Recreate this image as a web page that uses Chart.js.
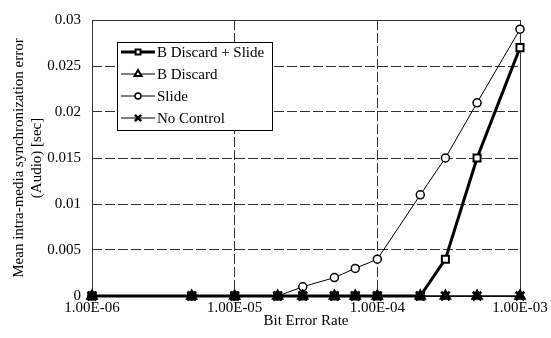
<!DOCTYPE html>
<html>
<head>
<meta charset="utf-8">
<script src="https://cdn.jsdelivr.net/npm/chart.js@4.4.1/dist/chart.umd.min.js"></script>
<style>
  html, body { margin: 0; padding: 0; background: #fff; }
</style>
</head>
<body>
<canvas id="chart" width="551" height="338"></canvas>
<script>
const bitErrorRates = [1e-6, 5e-6, 1e-5, 2e-5, 3e-5, 5e-5, 7e-5, 1e-4, 2e-4, 3e-4, 5e-4, 1e-3]
const discardSlide = [0, 0, 0, 0, 0, 0, 0, 0, 0, 0.004, 0.015, 0.027]
const discardOnly = [0, 0, 0, 0, 0, 0, 0, 0, 0, 0, 0, 0]
const slideOnly = [0, 0, 0, 0, 0.001, 0.002, 0.003, 0.004, 0.011, 0.015, 0.021, 0.029]
const noControl = [0, 0, 0, 0, 0, 0, 0, 0, 0, 0, 0, 0]
const seriesNames = ['B Discard + Slide', 'B Discard', 'Slide', 'No Control']
const xTicks = [1e-6, 1e-5, 1e-4, 1e-3]
const xTickLabels = ['1.00E-06', '1.00E-05', '1.00E-04', '1.00E-03']

const FONT = "'Liberation Serif', 'Times New Roman', serif"

const points = vals => vals.map((v, i) => ({ x: bitErrorRates[i], y: v }))

// squares sitting on zero look solid black in the original (markers pile up)
const squareFill = ctx => (ctx.raw && ctx.raw.y === 0) ? '#000' : '#fff'

// legend box drawn inside the plot area, upper left
const boxLegend = {
  id: 'boxLegend',
  afterDraw (chart) {
    const ctx = chart.ctx
    const area = chart.chartArea
    const x0 = Math.round(area.left) + 25
    const y0 = Math.round(area.top) + 22
    const w = 155
    const rowH = 22
    const h = 88
    ctx.save()
    ctx.fillStyle = '#fff'
    ctx.fillRect(x0, y0, w, h)
    ctx.strokeStyle = '#000'
    ctx.lineWidth = 1
    ctx.strokeRect(x0 + 0.5, y0 + 0.5, w, h)
    ctx.font = '15px ' + FONT
    ctx.textBaseline = 'middle'
    chart.data.datasets.forEach((ds, i) => {
      const y = y0 + 10 + i * rowH
      ctx.strokeStyle = '#000'
      ctx.lineWidth = ds.borderWidth
      ctx.beginPath()
      ctx.moveTo(x0 + 4, y)
      ctx.lineTo(x0 + 38, y)
      ctx.stroke()
      ctx.fillStyle = '#fff'
      ctx.lineWidth = ds.pointBorderWidth
      Chart.helpers.drawPoint(ctx, {
        pointStyle: ds.pointStyle,
        radius: ds.legendRadius,
        rotation: 0,
        borderWidth: ds.pointBorderWidth
      }, x0 + 21, y)
      ctx.fillStyle = '#000'
      ctx.fillText(ds.label, x0 + 40, y + 1)
    })
    ctx.restore()
  }
}

// solid frame round the plot area
const plotFrame = {
  id: 'plotFrame',
  beforeDatasetsDraw (chart) {
    const a = chart.chartArea
    const ctx = chart.ctx
    ctx.save()
    ctx.strokeStyle = '#333'
    ctx.lineWidth = 1
    ctx.strokeRect(Math.round(a.left) + 0.5, Math.round(a.top) + 0.5, Math.round(a.width), Math.round(a.height))
    ctx.restore()
  }
}

new Chart(document.getElementById('chart'), {
  type: 'line',
  data: {
    datasets: [
      {
        label: seriesNames[0],
        data: points(discardSlide),
        borderColor: '#000',
        borderWidth: 3,
        pointStyle: 'rect',
        pointRadius: 5,
        legendRadius: 3.5,
        pointBorderWidth: 2,
        pointBorderColor: '#000',
        pointBackgroundColor: squareFill,
        clip: false
      },
      {
        label: seriesNames[1],
        data: points(discardOnly),
        borderColor: '#000',
        borderWidth: 1,
        pointStyle: 'triangle',
        pointRadius: 5.5,
        legendRadius: 4,
        pointBorderWidth: 2,
        pointBorderColor: '#000',
        pointBackgroundColor: '#000',
        clip: false
      },
      {
        label: seriesNames[2],
        data: points(slideOnly),
        borderColor: '#000',
        borderWidth: 1,
        pointStyle: 'circle',
        pointRadius: 4,
        legendRadius: 3,
        pointBorderWidth: 1.5,
        pointBorderColor: '#000',
        pointBackgroundColor: '#fff',
        clip: false
      },
      {
        label: seriesNames[3],
        data: points(noControl),
        borderColor: '#000',
        borderWidth: 1,
        pointStyle: 'crossRot',
        pointRadius: 6,
        legendRadius: 4.5,
        pointBorderWidth: 2.5,
        pointBorderColor: '#000',
        pointBackgroundColor: '#000',
        clip: false
      }
    ]
  },
  options: {
    responsive: false,
    animation: false,
    layout: { padding: { top: 19, right: 31, left: 10, bottom: 0 } },
    plugins: {
      legend: { display: false },
      tooltip: { enabled: false }
    },
    scales: {
      x: {
        type: 'logarithmic',
        min: 1e-6,
        max: 1e-3,
        afterBuildTicks: scale => { scale.ticks = xTicks.map(v => ({ value: v })) },
        afterFit: scale => { scale.height = 42 },
        ticks: {
          autoSkip: false,
          maxRotation: 0,
          padding: 3,
          color: '#000',
          font: { family: FONT, size: 15 },
          callback: v => xTickLabels[xTicks.indexOf(v)] || ''
        },
        grid: { color: '#333', lineWidth: 1, drawTicks: false, tickLength: 0 },
        border: { display: false, dash: [10, 3] },
        title: {
          display: true,
          text: 'Bit Error Rate',
          color: '#000',
          font: { family: FONT, size: 15 },
          padding: { top: 0, bottom: 8 }
        }
      },
      y: {
        min: 0,
        max: 0.03,
        afterFit: scale => { scale.width = 82 },
        ticks: {
          stepSize: 0.005,
          padding: 11,
          color: '#000',
          font: { family: FONT, size: 15 },
          callback: v => String(+v.toFixed(3))
        },
        grid: { color: '#333', lineWidth: 1, drawTicks: false, tickLength: 0 },
        border: { display: false, dash: [10, 3] },
        title: {
          display: true,
          text: ['Mean intra-media synchronization error', '(Audio) [sec]'],
          color: '#000',
          font: { family: FONT, size: 15 },
          padding: { top: 0, bottom: 4 }
        }
      }
    }
  },
  plugins: [plotFrame, boxLegend]
})
</script>
</body>
</html>
